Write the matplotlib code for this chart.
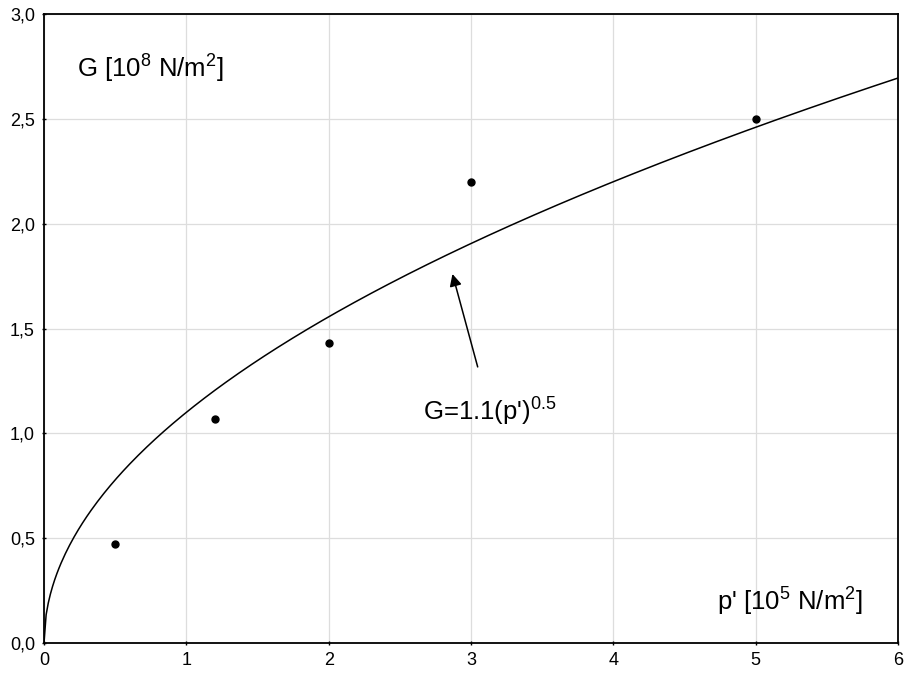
import numpy as np
import matplotlib.pyplot as plt
from matplotlib.ticker import FuncFormatter

plt.rcParams['font.family'] = ['Liberation Sans', 'DejaVu Sans']
plt.rcParams['mathtext.fontset'] = 'custom'
plt.rcParams['mathtext.rm'] = 'Liberation Sans'

# measured points
p = [0.5, 1.2, 2.0, 3.0, 5.0]
G = [0.47, 1.07, 1.43, 2.20, 2.50]

# fit stated on the chart: G = a * p'^b
fit_a = 1.1
fit_b = 0.5

xticks = [0, 1, 2, 3, 4, 5, 6]
yticks = [0.0, 0.5, 1.0, 1.5, 2.0, 2.5, 3.0]

fig = plt.figure(figsize=(9.07, 6.76), dpi=100)
ax = fig.add_axes([0.0485, 0.0488, 0.9415, 0.9305])

x = np.linspace(0, 6, 400)
ax.plot(x, fit_a * x ** fit_b, color='black', lw=1.1)
ax.plot(p, G, 'o', color='black', ms=5)

ax.set_xlim(0, 6)
ax.set_ylim(0, 3)
ax.set_xticks(xticks)
ax.set_yticks(yticks)
ax.yaxis.set_major_formatter(FuncFormatter(lambda v, _: f'{v:.1f}'.replace('.', ',')))
ax.tick_params(labelsize=13, length=3, width=1, direction='inout', pad=5)
ax.grid(True, color='#dddddd', lw=0.9)
ax.set_axisbelow(True)
for s in ax.spines.values():
    s.set_linewidth(1.3)

ax.text(0.23, 2.70, r'G [10$^\mathrm{8}$ N/m$^\mathrm{2}$]', fontsize=18.5)
ax.text(4.73, 0.16, r"p' [10$^\mathrm{5}$ N/m$^\mathrm{2}$]", fontsize=18.5)
ax.annotate(r"G=1.1(p')$^\mathrm{0.5}$", xy=(2.87, 1.76), xytext=(3.13, 1.11),
            fontsize=18.5, ha='center', va='center',
            arrowprops=dict(arrowstyle='-|>', color='black', lw=1.1,
                            mutation_scale=18, shrinkA=18, shrinkB=0))

fig.savefig('out.png', dpi=100)
